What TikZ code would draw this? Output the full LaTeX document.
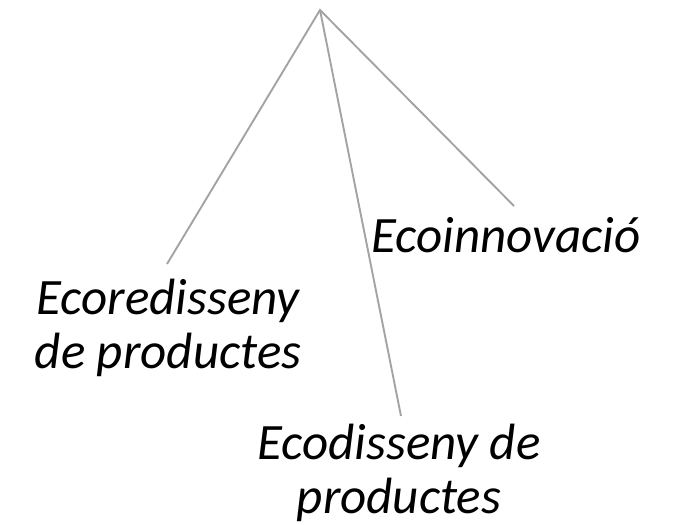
\documentclass[tikz,border=0pt]{standalone}
\usepackage{fontspec}
\setmainfont{Carlito}
\tikzset{
  conn/.style={draw=black!36, line width=1.9pt},
  lbl/.style={font=\fontsize{51}{54}\selectfont\itshape, align=center, inner sep=0pt, anchor=base}
}
\begin{document}
\begin{tikzpicture}[x=1pt,y=-1pt]
\useasboundingbox (0,0) rectangle (678,525);
\coordinate (top) at (320,10);
\coordinate (eL) at (167,264);
\coordinate (eM) at (401,416);
\coordinate (eR) at (514,206);
\draw[conn] (eL) -- (top) -- (eR);
\draw[conn] (top) -- (eM);
\node[lbl] (inno) at (506,252) {Ecoinnovació};
\node[lbl] (redis) at (168,368) {Ecoredisseny\\de productes};
\node[lbl] (dis) at (399,513) {Ecodisseny de\\productes};
\end{tikzpicture}
\end{document}
